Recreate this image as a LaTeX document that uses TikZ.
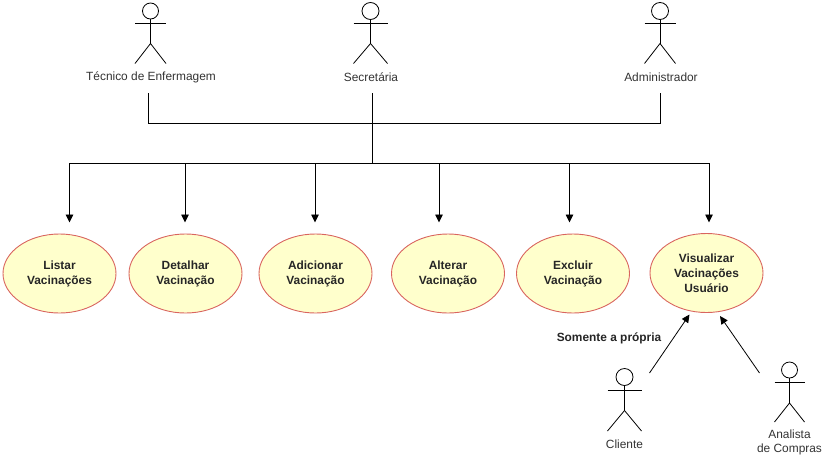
\documentclass[tikz,border=0pt]{standalone}
\usepackage{fontspec}
\setmainfont{Liberation Sans}
\usetikzlibrary{arrows.meta,positioning,shapes.geometric}
\definecolor{ucred}{HTML}{D9655F}
\definecolor{ucfill}{HTML}{FFFFCC}
\tikzset{
  x=1pt,y=-1pt,
  usecase/.style={ellipse,draw=ucred,fill=ucfill,line width=0.9pt,minimum width=113pt,minimum height=79pt,inner sep=0pt,align=center,text=black!85,font=\fontsize{11.9}{15}\selectfont\bfseries},
  actorlabel/.style={inner sep=0pt,align=center,text=black!80,font=\fontsize{11.9}{15}\selectfont},
  wire/.style={draw=black,line width=0.9pt},
  arrowwire/.style={wire,-{Triangle[length=8pt,width=7.5pt]}},
  actorline/.style={draw=black,line width=0.8pt},
}
\newcommand{\stickman}[8]{% x, headY, r, armY, halfarm, hipY, footY, halfleg
  \draw[actorline] (#1,#2) circle[radius=#3];
  \draw[actorline] (#1,#2+#3) -- (#1,#6);
  \draw[actorline] (#1-#5,#4) -- (#1+#5,#4);
  \draw[actorline] (#1-#8,#7) -- (#1,#6) -- (#1+#8,#7);
}
\begin{document}
\begin{tikzpicture}
\useasboundingbox (0,0) rectangle (824,461);
\stickman{150.5}{11}{8}{23.5}{15.5}{43.5}{63.5}{15.5}
\stickman{370.5}{11}{8.5}{23.5}{17}{43.5}{63.5}{17}
\stickman{660}{11}{8.5}{23.5}{15.5}{43.5}{63.5}{15.5}
\stickman{624.5}{377}{8.5}{390}{17}{410.5}{431}{17}
\stickman{789.5}{370}{8}{382}{15}{403}{422}{15}

\node[actorlabel] (tec) at (151,77) {Técnico de Enfermagem};
\node[actorlabel] (sec) at (371,77) {Secretária};
\node[actorlabel] (adm) at (661,77) {Administrador};
\node[actorlabel] (cli) at (624.5,444) {Cliente};
\node[actorlabel,font=\fontsize{11.9}{14}\selectfont] (ana) at (789.5,442) {Analista\\de Compras};
\node[inner sep=0pt,text=black!85,font=\fontsize{11.9}{15}\selectfont\bfseries] (som) at (609,338) {Somente a própria};

\node[usecase] (u1) at (59.5,273.5) {Listar\\Vacinações};
\node[usecase] (u2) at (185.5,273.5) {Detalhar\\Vacinação};
\node[usecase] (u3) at (315.5,273.5) {Adicionar\\Vacinação};
\node[usecase] (u4) at (448,273.5) {Alterar\\Vacinação};
\node[usecase] (u5) at (573,273.5) {Excluir\\Vacinação};
\node[usecase] (u6) at (706.5,273) {Visualizar\\Vacinações\\Usuário};

\coordinate (tecs) at (148.5,93);
\coordinate (secs) at (372,93);
\coordinate (adms) at (660.5,93);
\coordinate (bus) at (372,123);
\coordinate (hub) at (372,163);
\coordinate (e1) at (69.5,222.5);
\coordinate (e2) at (185,222.5);
\coordinate (e3) at (315,222.5);
\coordinate (e4) at (439,222.5);
\coordinate (e5) at (569.5,222.5);
\coordinate (e6) at (709,222.5);
\coordinate (clis) at (649.5,373);
\coordinate (clie) at (689.5,314.5);
\coordinate (anas) at (759.5,373);
\coordinate (anae) at (720,316);

\draw[wire] (tecs) |- (bus);
\draw[wire] (adms) |- (bus);
\draw[wire] (secs) -- (hub);
\draw[arrowwire] (hub) -| (e1);
\draw[arrowwire] (hub) -| (e2);
\draw[arrowwire] (hub) -| (e3);
\draw[arrowwire] (hub) -| (e4);
\draw[arrowwire] (hub) -| (e5);
\draw[arrowwire] (hub) -| (e6);
\draw[arrowwire,line width=0.8pt] (clis) -- (clie);
\draw[arrowwire,line width=0.8pt] (anas) -- (anae);
\end{tikzpicture}
\end{document}
